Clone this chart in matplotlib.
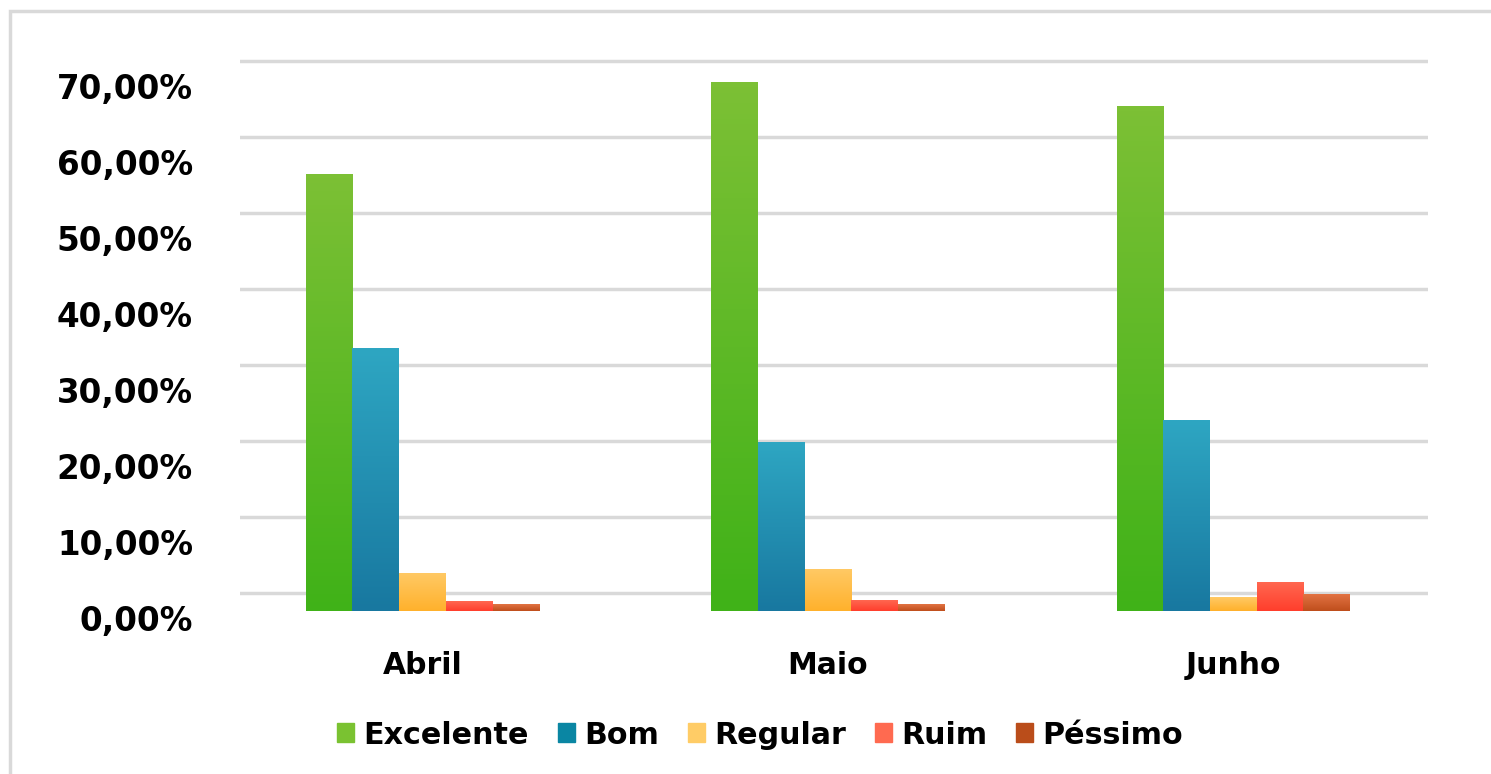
import numpy as np
import matplotlib
matplotlib.use('Agg')
import matplotlib.pyplot as plt
from matplotlib.transforms import ScaledTranslation
from matplotlib.colors import LinearSegmentedColormap
from matplotlib.patches import Rectangle

months = ['Abril', 'Maio', 'Junho']
series = ['Excelente', 'Bom', 'Regular', 'Ruim', 'Péssimo']
excelente = [57.5, 69.5, 66.4]
bom = [34.6, 22.2, 25.1]
regular = [4.9, 5.5, 1.8]
ruim = [1.2, 1.4, 3.8]
pessimo = [0.8, 0.8, 2.2]
values = [excelente, bom, regular, ruim, pessimo]

# (top, bottom) gradient colours, legend colour
grad = [('#7cc035', '#40b218'), ('#2ea6c2', '#1878a0'), ('#ffc964', '#ffb12c'),
        ('#ff6750', '#ff3e2c'), ('#e27343', '#bf4e1c')]
leg_cols = ['#7ac231', '#0a86a3', '#ffcc66', '#ff6a50', '#ba4d1a']

fig = plt.figure(figsize=(14.91, 7.74), dpi=100)
fig.patches.append(Rectangle((10 / 1491, -0.1), 1.2, (774 - 11) / 774 + 0.1,
                             transform=fig.transFigure, fill=False,
                             edgecolor='#d9d9d9', linewidth=2.5))

ax = fig.add_axes([240 / 1491, (774 - 611) / 774, 1188 / 1491, 570 / 774])
for s in ax.spines.values():
    s.set_visible(False)

x = np.arange(len(months))
w = 0.1152
for i, vals in enumerate(values):
    bars = ax.bar(x + (i - 2) * w, vals, w, color='none', label=series[i], zorder=3)
    cmap = LinearSegmentedColormap.from_list('g%d' % i, [grad[i][1], grad[i][0]])
    for b in bars:
        x0, y0 = b.get_x(), b.get_y()
        bw, bh = b.get_width(), b.get_height()
        ax.imshow(np.linspace(0, 1, 100).reshape(-1, 1), cmap=cmap, origin='lower',
                  extent=[x0, x0 + bw, y0, y0 + bh], aspect='auto', zorder=3)

ax.set_xlim(-0.45, 2.48)
ax.set_ylim(0, 75)

ticks = np.arange(0, 71, 10)
# gridlines sit a little above the values, labels a little below (as in the original)
up = ScaledTranslation(0, 0.18, fig.dpi_scale_trans)
down = ScaledTranslation(0, -0.10, fig.dpi_scale_trans)
for t in ticks:
    ax.plot([0, 1], [t, t], color='#d9d9d9', linewidth=2.5, zorder=1,
            transform=ax.get_yaxis_transform() + up)
    ax.text(-0.0396, t, '%d,00%%' % t, ha='right', va='center', fontsize=23.5,
            fontweight='bold', transform=ax.get_yaxis_transform() + down)

ax.set_yticks([])
ax.set_xticks(x)
ax.set_xticklabels(months, fontsize=21.5, fontweight='bold')
ax.tick_params(axis='x', length=0, pad=29)

handles = [Rectangle((0, 0), 1, 1, color=c) for c in leg_cols]
fig.legend(handles, series, loc='center', bbox_to_anchor=(760 / 1491, 39 / 774),
           ncol=5, frameon=False, prop={'size': 21.7, 'weight': 'bold'},
           handlelength=0.58, handleheight=0.58, handletextpad=0.3,
           columnspacing=0.95)

fig.savefig('out.png', dpi=100)
